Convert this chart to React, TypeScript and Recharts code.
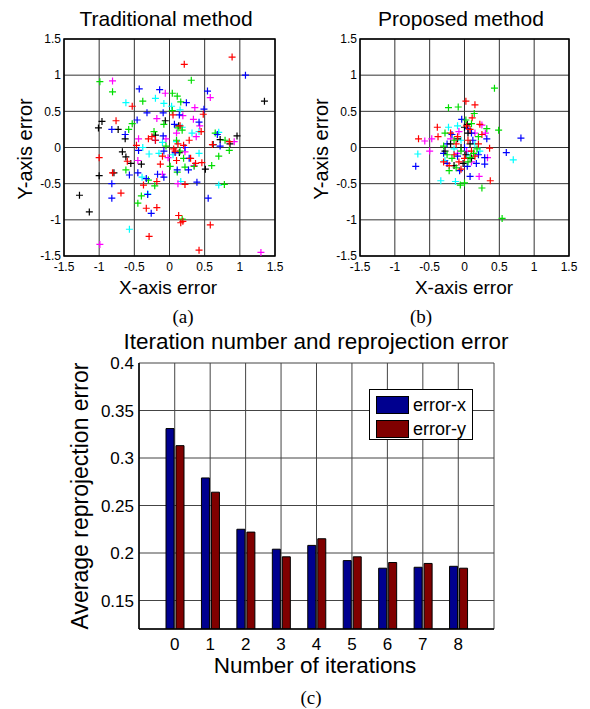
import React from "react";
import {
  Bar,
  BarChart,
  CartesianGrid,
  Legend,
  ReferenceArea,
  Scatter,
  ScatterChart,
  XAxis,
  YAxis,
} from "recharts";

// Reprojection error figure: two scatter panels of per-point x/y error
// (traditional vs proposed calibration) and a grouped bar chart of the
// average error per iteration. MATLAB look: boxed axes, solid grid.

const AXIS_TICKS = [-1.5, -1, -0.5, 0, 0.5, 1, 1.5];

// (a) traditional method, [x error, y error]
const TRAD_RED = [
  [0.89, 1.25], [0.21, 1.15], [-0.53, 0.57], [0.48, 0.46], [-0.76, 0.37], [0.45, 0.22],
  [-0.3, 0.12], [0.61, 0.04], [-0.47, 0.03], [-0.2, 0.1], [0.06, -0.02], [0.08, -0.05],
  [-1.0, -0.14], [-0.6, -0.19], [-0.13, -0.23], [0.1, -0.18], [0.37, -0.22], [0.46, -0.21],
  [-0.81, -0.35], [-0.37, -0.52], [-0.18, -0.47], [0.22, -0.51], [-0.69, -0.63], [-0.33, -0.84],
  [-0.18, -0.83], [0.13, -0.94], [0.16, -1.04], [0.19, -1.02], [0.58, -1.07], [-0.29, -1.23],
  [0.42, -1.42], [0.15, 0.3], [0.12, 0.05], [0.28, 0.1], [-0.25, 0.15], [0.3, -0.15],
  [-0.1, -0.12], [0.85, 0.08], [0.05, 0.45], [0.2, 0.03],
];
const TRAD_GREEN = [
  [-0.99, 0.91], [-0.81, 0.77], [0.31, 0.93], [0.04, 0.75], [0.11, 0.71], [-0.38, 0.64],
  [0.16, 0.63], [0.04, 0.51], [-0.53, 0.33], [-0.58, 0.25], [-0.22, 0.22], [0.12, 0.27],
  [0.18, 0.24], [0.65, 0.2], [0.79, 0.1], [-0.05, 0.02], [0.1, 0.1], [0.01, -0.26],
  [0.22, -0.27], [0.35, -0.26], [0.6, -0.25], [0.7, -0.12], [-0.62, -0.31], [-0.21, -0.53],
  [0.11, -0.34], [0.78, -0.51], [-0.4, -0.67], [-0.45, -0.77], [0.18, -0.99], [0.15, -0.05],
  [0.2, -0.15], [-0.3, -0.45], [-0.08, 0.32], [0.85, -0.04],
];
const TRAD_BLUE = [
  [1.08, 1.0], [-0.43, 0.81], [-0.14, 0.8], [0.54, 0.78], [0.24, 0.62], [0.49, 0.53],
  [-0.32, 0.48], [-0.09, 0.48], [-0.46, 0.38], [-0.82, 0.25], [0.07, 0.32], [0.14, 0.45],
  [-0.63, 0.18], [-0.09, 0.16], [-0.2, 0.1], [0.72, 0.02], [0.68, 0.18], [-0.44, -0.04],
  [-0.08, -0.05], [0.08, -0.07], [0.22, 0.0], [0.28, -0.15], [-0.57, -0.38], [-0.45, -0.35],
  [-0.33, -0.43], [-0.17, -0.37], [-0.08, -0.41], [0.11, -0.31], [0.39, -0.48], [-0.82, -0.5],
  [-0.82, -0.7], [-0.31, -0.65], [-0.26, -0.91], [0.55, -0.7], [0.27, -0.31], [0.42, 0.35],
];
const TRAD_CYAN = [
  [-0.62, 0.62], [-0.2, 0.68], [-0.08, 0.61], [0.03, 0.57], [0.15, 0.52], [0.32, 0.2],
  [0.42, 0.22], [0.7, 0.21], [-0.29, -0.09], [-0.38, 0.0], [-0.1, 0.07], [0.1, 0.08],
  [0.42, -0.08], [0.16, -0.47], [0.7, -0.52], [-0.39, -0.41], [-0.31, -0.64], [-0.57, -1.13],
  [0.05, -0.1], [0.18, 0.28], [-0.15, -0.08],
];
const TRAD_MAGENTA = [
  [-0.81, 0.92], [0.58, 0.69], [-0.06, 0.75], [0.36, 0.55], [0.19, 0.44], [-0.18, 0.4],
  [0.34, 0.39], [0.43, 0.3], [-0.44, 0.12], [0.1, 0.2], [0.92, 0.08], [-0.45, -0.18],
  [-0.02, -0.14], [0.12, -0.5], [-0.1, -0.37], [0.35, -0.25], [-0.99, -1.34], [1.3, -1.45],
  [0.22, -0.06], [-0.05, 0.12], [0.38, 0.15],
];
const TRAD_BLACK = [
  [1.35, 0.64], [-0.96, 0.36], [-1.01, 0.27], [-0.73, 0.25], [-0.63, 0.12], [-0.06, 0.37],
  [-0.2, 0.17], [0.13, 0.3], [0.72, 0.11], [0.96, 0.16], [0.86, 0.05], [0.14, -0.07],
  [-0.67, -0.06], [-0.62, -0.13], [-0.55, -0.22], [-0.4, -0.23], [0.51, -0.3], [-1.0, -0.39],
  [-0.79, -0.35], [-1.28, -0.66], [-1.14, -0.89], [0.62, 0.04],
];

// (b) proposed method
const PROP_RED = [
  [0.02, 0.64], [0.15, 0.59], [0.11, 0.41], [-0.39, 0.28], [0.22, 0.32], [-0.66, 0.12],
  [-0.38, 0.15], [0.36, -0.01], [0.37, -0.46], [-0.2, 0.2], [-0.1, 0.15], [0.05, 0.1],
  [0.1, -0.05], [-0.15, -0.1], [0.0, -0.15], [-0.05, -0.3], [0.2, 0.05], [-0.3, -0.2],
  [0.08, 0.25], [-0.12, 0.05], [0.15, -0.12], [-0.22, -0.25], [0.25, 0.18], [-0.08, -0.2],
  [0.03, 0.3],
];
const PROP_GREEN = [
  [0.43, 0.82], [-0.23, 0.55], [-0.09, 0.56], [0.14, 0.47], [0.02, 0.38], [0.49, 0.24],
  [0.32, 0.26], [-0.28, 0.2], [-0.3, 0.02], [-0.18, -0.15], [0.13, -0.08], [0.2, 0.15],
  [-0.05, -0.05], [-0.12, -0.28], [-0.22, -0.32], [0.05, -0.2], [-0.06, -0.52], [0.0, -0.49],
  [0.25, -0.56], [0.54, -0.98], [0.1, 0.33], [-0.15, 0.1], [0.08, -0.14], [-0.25, -0.1],
  [0.18, -0.02],
];
const PROP_BLUE = [
  [-0.04, 0.39], [0.81, 0.13], [-0.7, -0.26], [0.6, -0.07], [0.29, -0.14], [0.29, -0.23],
  [0.08, -0.4], [0.17, -0.22], [-0.07, -0.32], [-0.25, 0.05], [-0.3, -0.08], [0.05, 0.26],
  [0.12, 0.1], [-0.1, -0.12], [0.0, 0.0], [0.32, 0.12], [-0.18, 0.18], [0.2, -0.1],
  [-0.25, -0.22], [0.1, 0.2], [0.04, -0.26],
];
const PROP_CYAN = [
  [-0.67, -0.09], [0.7, -0.17], [-0.34, -0.46], [-0.13, -0.47], [-0.23, 0.28], [-0.1, 0.3],
  [-0.28, -0.18], [0.15, 0.05], [-0.05, 0.1], [0.22, -0.05], [-0.15, -0.02], [0.05, -0.1],
];
const PROP_MAGENTA = [
  [-0.57, 0.09], [-0.47, 0.12], [-0.5, -0.05], [0.25, 0.31], [0.33, -0.14], [0.21, -0.4],
  [-0.08, 0.22], [0.1, -0.2], [-0.2, 0.12], [0.15, 0.2], [0.03, -0.05], [-0.1, -0.08],
  [0.3, 0.2],
];
const PROP_BLACK = [
  [0.0, 0.28], [0.05, 0.2], [-0.1, 0.12], [-0.05, 0.0], [0.02, -0.1], [-0.15, -0.25],
  [-0.2, 0.05], [0.1, -0.15], [-0.28, -0.05], [0.08, 0.05], [-0.02, -0.22], [0.04, 0.32],
];

// (c) average reprojection error per iteration
const ITERATIONS = ["0", "1", "2", "3", "4", "5", "6", "7", "8"];
const ERROR_X = [0.331, 0.279, 0.225, 0.204, 0.208, 0.192, 0.184, 0.185, 0.186];
const ERROR_Y = [0.313, 0.264, 0.222, 0.196, 0.215, 0.196, 0.19, 0.189, 0.184];
const ERROR_TICKS = [0.15, 0.2, 0.25, 0.3, 0.35, 0.4];

const SANS = "'Liberation Sans', Arial, sans-serif";
const SERIF = "'Liberation Serif', 'Times New Roman', serif";
const GRID = "#333";

type Pair = number[];
interface Series {
  color: string;
  points: Pair[];
}

const TRAD_SERIES: Series[] = [
  { color: "#000000", points: TRAD_BLACK },
  { color: "#00ffff", points: TRAD_CYAN },
  { color: "#ff00ff", points: TRAD_MAGENTA },
  { color: "#00dd00", points: TRAD_GREEN },
  { color: "#0000ff", points: TRAD_BLUE },
  { color: "#ff0000", points: TRAD_RED },
];
const PROP_SERIES: Series[] = [
  { color: "#00ffff", points: PROP_CYAN },
  { color: "#ff00ff", points: PROP_MAGENTA },
  { color: "#0000ff", points: PROP_BLUE },
  { color: "#000000", points: PROP_BLACK },
  { color: "#ff0000", points: PROP_RED },
  { color: "#00dd00", points: PROP_GREEN },
];

const barRows = ITERATIONS.map((iter, i) => ({
  iter,
  ex: ERROR_X[i],
  ey: ERROR_Y[i],
}));

function plusMarker(color: string) {
  return (props: any) => {
    const { cx, cy } = props;
    if (cx == null || cy == null) return <g />;
    const r = 3.5;
    return (
      <path
        d={`M${cx - r},${cy}H${cx + r}M${cx},${cy - r}V${cy + r}`}
        stroke={color}
        strokeWidth={1.2}
        fill="none"
      />
    );
  };
}

function Text({
  x,
  y,
  size,
  children,
  rotate = false,
  serif = false,
}: {
  x: number;
  y: number;
  size: number;
  children: React.ReactNode;
  rotate?: boolean;
  serif?: boolean;
}) {
  return (
    <div
      style={{
        position: "absolute",
        left: x,
        top: y,
        fontSize: size,
        fontFamily: serif ? SERIF : SANS,
        lineHeight: 1,
        whiteSpace: "nowrap",
        color: "#000",
        transform: `translate(-50%, -50%)${rotate ? " rotate(-90deg)" : ""}`,
      }}
    >
      {children}
    </div>
  );
}

function ErrorScatter({
  series,
  left,
  plotLeft,
  plotRight,
}: {
  series: Series[];
  left: number;
  plotLeft: number;
  plotRight: number;
}) {
  const W = 295;
  const H = 300;
  return (
    <div style={{ position: "absolute", left, top: 0 }}>
      <ScatterChart
        width={W}
        height={H}
        margin={{ top: 39, right: W - plotRight, bottom: H - 256 - 25, left: plotLeft - 40 }}
      >
        <CartesianGrid stroke={GRID} strokeWidth={1} />
        <XAxis
          type="number"
          dataKey="x"
          domain={[-1.5, 1.5]}
          ticks={AXIS_TICKS}
          allowDataOverflow
          height={25}
          tickSize={0}
          tickMargin={6}
          axisLine={false}
          tick={{ fill: "#000", fontSize: 12, fontFamily: SANS }}
        />
        <YAxis
          type="number"
          dataKey="y"
          domain={[-1.5, 1.5]}
          ticks={AXIS_TICKS}
          allowDataOverflow
          width={40}
          tickSize={0}
          tickMargin={3}
          axisLine={false}
          tick={{ fill: "#000", fontSize: 12, fontFamily: SANS }}
        />
        {series.map((s, i) => (
          <Scatter
            key={i}
            data={s.points.map(([x, y]) => ({ x, y }))}
            fill={s.color}
            shape={plusMarker(s.color)}
            isAnimationActive={false}
          />
        ))}
        <ReferenceArea
          x1={-1.5}
          x2={1.5}
          y1={-1.5}
          y2={1.5}
          fill="none"
          fillOpacity={0}
          stroke="#000"
          strokeWidth={1.5}
        />
      </ScatterChart>
    </div>
  );
}

function BarLegend({ payload }: any) {
  const items = (payload || []).filter((p: any) => p.type !== "none");
  return (
    <div
      style={{
        width: 104,
        height: 51,
        boxSizing: "border-box",
        border: "1.5px solid #000",
        background: "#fff",
        padding: "3px 0 0 6px",
      }}
    >
      {items.map((p: any) => (
        <div key={p.value} style={{ display: "flex", alignItems: "center", height: 24 }}>
          <span
            style={{
              display: "inline-block",
              width: 33,
              height: 18,
              boxSizing: "border-box",
              background: p.color,
              border: "1px solid #000",
              marginRight: 4,
            }}
          />
          <span style={{ fontSize: 18, fontFamily: SANS, color: "#000", lineHeight: 1 }}>
            {p.value}
          </span>
        </div>
      ))}
    </div>
  );
}

function IterationBars() {
  return (
    <div style={{ position: "absolute", left: 0, top: 330 }}>
      <BarChart
        width={590}
        height={379}
        data={barRows}
        margin={{ top: 33, right: 96, bottom: 50, left: 89 }}
        barSize={8}
        barGap={2}
      >
        <CartesianGrid stroke="#444" strokeWidth={1} />
        <XAxis
          dataKey="iter"
          padding={{ left: 18, right: 18 }}
          height={30}
          tickSize={0}
          tickMargin={8.5}
          axisLine={{ stroke: "#000", strokeWidth: 1.5 }}
          tick={{ fill: "#000", fontSize: 17, fontFamily: SANS }}
        />
        <XAxis
          xAxisId="top"
          orientation="top"
          dataKey="iter"
          padding={{ left: 18, right: 18 }}
          height={0}
          tick={false}
          tickLine={false}
          axisLine={{ stroke: "#000", strokeWidth: 1.5 }}
        />
        <YAxis
          domain={[0.12, 0.4]}
          ticks={ERROR_TICKS}
          allowDataOverflow
          width={50}
          tickSize={0}
          tickMargin={5}
          tickFormatter={(v: number) => String(v)}
          axisLine={{ stroke: "#000", strokeWidth: 1.5 }}
          tick={{ fill: "#000", fontSize: 17, fontFamily: SANS }}
        />
        <YAxis
          yAxisId="right"
          orientation="right"
          domain={[0.12, 0.4]}
          width={0}
          tick={false}
          tickLine={false}
          axisLine={{ stroke: "#000", strokeWidth: 1.5 }}
        />
        {/* horizontal + middle + center keeps the legend from reserving chart space */}
        <Legend
          layout="horizontal"
          verticalAlign="middle"
          align="center"
          content={<BarLegend />}
          wrapperStyle={{ left: 369, top: 59, width: 104, height: 51 }}
        />
        <Bar
          dataKey="ex"
          name="error-x"
          fill="#00008f"
          stroke="#000"
          strokeWidth={1}
          isAnimationActive={false}
        />
        <Bar
          dataKey="ey"
          name="error-y"
          fill="#800000"
          stroke="#000"
          strokeWidth={1}
          isAnimationActive={false}
        />
      </BarChart>
    </div>
  );
}

export default function App() {
  return (
    <div
      style={{
        position: "absolute",
        left: 0,
        top: 0,
        width: 590,
        height: 709,
        background: "#fff",
        overflow: "hidden",
        fontFamily: SANS,
      }}
    >
      <ErrorScatter series={TRAD_SERIES} left={0} plotLeft={64} plotRight={275} />
      <ErrorScatter series={PROP_SERIES} left={295} plotLeft={65} plotRight={274} />
      <IterationBars />

      <Text x={166} y={18} size={21}>Traditional method</Text>
      <Text x={461} y={18} size={21}>Proposed method</Text>
      <Text x={25} y={149} size={20} rotate>Y-axis error</Text>
      <Text x={321} y={149} size={20} rotate>Y-axis error</Text>
      <Text x={168} y={287} size={19}>X-axis error</Text>
      <Text x={464} y={287} size={19}>X-axis error</Text>
      <Text x={183} y={316} size={19} serif>(a)</Text>
      <Text x={421} y={316} size={19} serif>(b)</Text>

      <Text x={316} y={342} size={22.5}>Iteration number and reprojection error</Text>
      <Text x={80} y={496} size={23} rotate>Average reprojection error</Text>
      <Text x={315} y={665.5} size={22.5}>Number of iterations</Text>
      <Text x={311} y={697} size={19} serif>(c)</Text>
    </div>
  );
}
